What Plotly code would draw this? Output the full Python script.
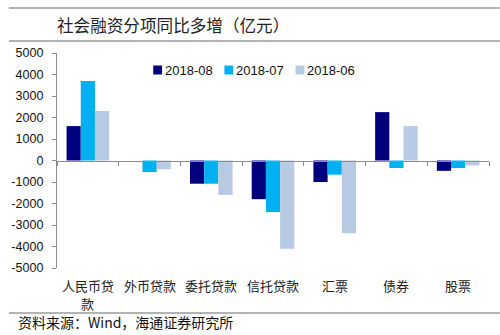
import plotly.graph_objects as go

# Year-on-year extra increase of social financing components (100 million yuan)
categories = ["人民币贷款", "外币贷款", "委托贷款", "信托贷款", "汇票", "债券", "股票"]
category_labels = ["人民币贷<br>款", "外币贷款", "委托贷款", "信托贷款", "汇票", "债券", "股票"]
series_names = ["2018-08", "2018-07", "2018-06"]
values_2018_08 = [1600, 0, -1080, -1800, -1000, 2250, -480]
values_2018_07 = [3700, -540, -1080, -2400, -660, -350, -350]
values_2018_06 = [2300, -410, -1600, -4100, -3380, 1600, -230]
y_ticks = [5000, 4000, 3000, 2000, 1000, 0, -1000, -2000, -3000, -4000, -5000]

colors = ["#00007F", "#00B0F0", "#B7CAE4"]
series_values = [values_2018_08, values_2018_07, values_2018_06]

W, H = 500, 335
ML, MR, MT, MB = 49, 11, 53, 67
PW, PH = W - ML - MR, H - MT - MB


def px_x(p):
    return (p - ML) / PW


def px_y(p):
    return (H - MB - p) / PH


cjk = "Noto Sans CJK SC"
latin = "Liberation Sans, Arial, sans-serif"

fig = go.Figure()
for name, vals, col in zip(series_names, series_values, colors):
    fig.add_trace(go.Bar(x=categories, y=vals, name=name, marker_color=col,
                         marker_line_width=0, showlegend=False))

shapes = []
annotations = []

# horizontal rules framing title and footer
for py in (8, 41, 313):
    shapes.append(dict(type="line", xref="paper", yref="paper",
                       x0=px_x(0), x1=px_x(W), y0=px_y(py), y1=px_y(py),
                       line=dict(color="#9a9a9a", width=1.5)))

annotations.append(dict(text="社会融资分项同比多增（亿元）", xref="paper", yref="paper",
                        x=px_x(47), y=px_y(25), xanchor="left", yanchor="middle",
                        showarrow=False, font=dict(family=cjk, size=16.6, color="#222222")))

annotations.append(dict(text="资料来源：Wind，海通证券研究所", xref="paper", yref="paper",
                        x=px_x(7), y=px_y(334), xanchor="left", yanchor="bottom",
                        showarrow=False, font=dict(family=cjk, size=14, color="#111111")))

# category labels beneath the plot, one annotation per text line
for cat, lab in zip(categories, category_labels):
    for k, line in enumerate(lab.split("<br>")):
        annotations.append(dict(text=line, xref="x", yref="paper", x=cat,
                                y=px_y(285 + 18 * k),
                                xanchor="center", yanchor="middle", showarrow=False,
                                font=dict(family=cjk, size=13, color="#222222")))

# legend row
for i, (name, col) in enumerate(zip(series_names, colors)):
    sx = 147 + i * 72.5
    shapes.append(dict(type="rect", xref="paper", yref="paper",
                       x0=px_x(sx), x1=px_x(sx + 9), y0=px_y(74.5), y1=px_y(65.5),
                       fillcolor=col, line=dict(width=0)))
    annotations.append(dict(text=name, xref="paper", yref="paper",
                            x=px_x(sx + 10), y=px_y(70), xanchor="left", yanchor="middle",
                            showarrow=False, font=dict(family=latin, size=13, color="#111111")))

fig.update_layout(
    width=W, height=H,
    margin=dict(l=ML, r=MR, t=MT, b=MB, pad=0),
    paper_bgcolor="white", plot_bgcolor="white",
    barmode="group", bargap=0.31, bargroupgap=0,
    shapes=shapes, annotations=annotations,
    xaxis=dict(type="category", categoryorder="array", categoryarray=categories,
               range=[-0.5, len(categories) - 0.5],
               anchor="free", position=0.5,
               showline=True, linecolor="#8c8c8c", linewidth=1.3,
               ticks="outside", tickson="boundaries", ticklen=4,
               tickcolor="#8c8c8c", tickwidth=1.3,
               showticklabels=False, showgrid=False, zeroline=False),
    yaxis=dict(range=[-5000, 5000], tickvals=y_ticks, ticktext=[str(v) for v in y_ticks],
               showline=True, linecolor="#8c8c8c", linewidth=1.3,
               ticks="outside", ticklen=4, tickcolor="#8c8c8c", tickwidth=1.3,
               ticklabelstandoff=6,
               tickfont=dict(family=latin, size=12.5, color="#111111"),
               showgrid=False, zeroline=False),
)

fig.write_html("out.html")
